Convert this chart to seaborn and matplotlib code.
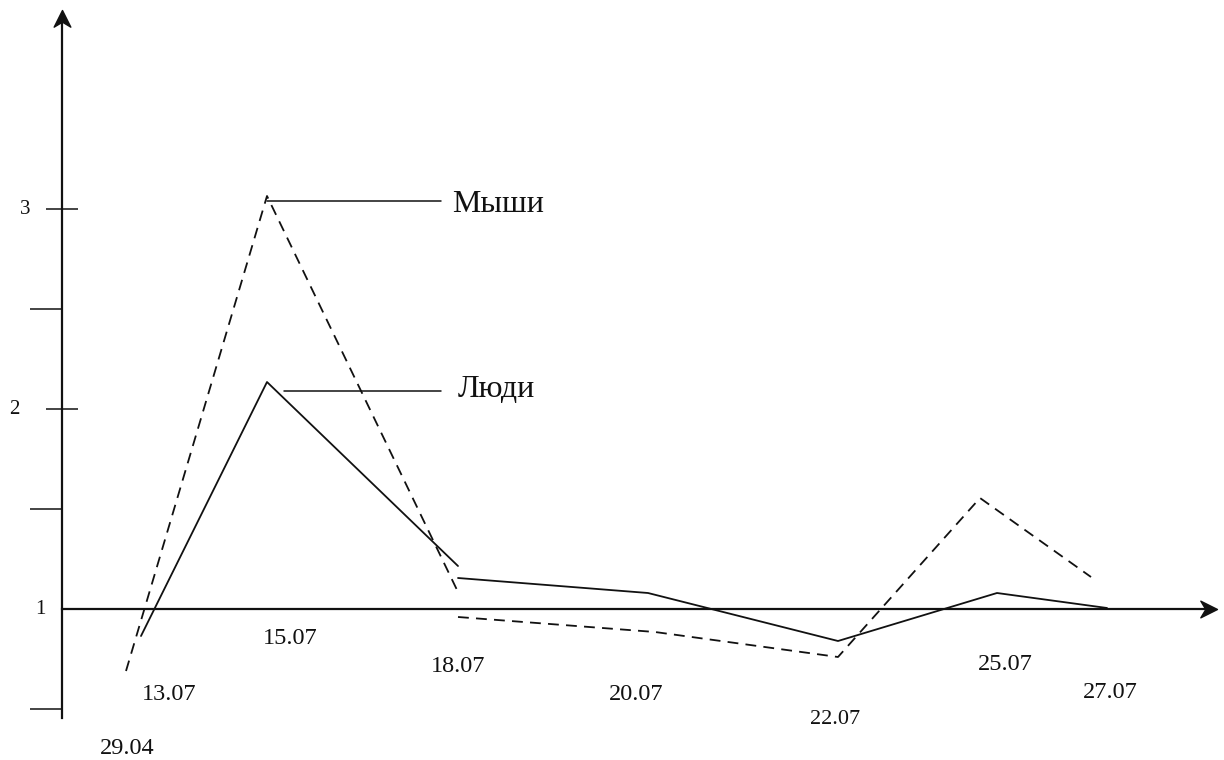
import numpy as np
import pandas as pd
import seaborn as sns
import matplotlib.pyplot as plt
from matplotlib.path import Path

# series values (x in drawing units, y on the value axis)
mice_x = [0.64, 2.05, 3.96, 3.96, 5.93, 7.76, 9.18, 10.29]
mice_y = [0.69, 3.065, 1.085, 0.96, 0.885, 0.76, 1.555, 1.16]
mice_seg = [0, 0, 0, 1, 1, 1, 1, 1]

people_x = [0.79, 2.05, 3.96, 3.96, 5.86, 7.76, 9.35, 10.45]
people_y = [0.865, 2.135, 1.215, 1.155, 1.08, 0.84, 1.08, 1.005]
people_seg = [0, 0, 0, 1, 1, 1, 1, 1]

# date labels under the x axis
date_labels = ['29.04', '13.07', '15.07', '18.07', '20.07', '22.07', '25.07', '27.07']
date_x = [0.65, 1.07, 2.28, 3.96, 5.74, 7.73, 9.43, 10.48]
date_y = [0.30, 0.575, 0.855, 0.71, 0.57, 0.445, 0.72, 0.58]
date_size = [17.5, 17.5, 17.5, 17.5, 17.5, 16, 17.5, 17.5]

# y axis
y_major = [2, 3]
y_minor = [0.5, 1.5, 2.5]
y_labels = ['1', '2', '3']
y_label_vals = [1, 2, 3]
y_label_x = [-0.22, -0.48, -0.37]

df = pd.DataFrame({
    'x': mice_x + people_x,
    'y': mice_y + people_y,
    'seg': mice_seg + people_seg,
    'series': ['Мыши'] * len(mice_x) + ['Люди'] * len(people_x),
})

sns.set_style('white')
plt.rcParams['font.family'] = ['Liberation Serif', 'DejaVu Serif']

fig = plt.figure(figsize=(12.24, 7.6), dpi=100)
ax = fig.add_axes([0, 0, 1, 1])
ink = '#111111'

sns.lineplot(data=df, x='x', y='y', style='series', units='seg', estimator=None,
             color=ink, linewidth=1.3, dashes={'Люди': '', 'Мыши': (6, 4)},
             legend=False, ax=ax, sort=False)

ax.set_xlim(-0.62, 11.62)
ax.set_ylim(0.245, 4.045)
ax.set_xlabel('')
ax.set_ylabel('')

# axes as arrows through the origin (0, 1)
for s in ['top', 'right']:
    ax.spines[s].set_visible(False)
ax.spines['left'].set_position(('data', 0))
ax.spines['bottom'].set_position(('data', 1))
ax.spines['left'].set_bounds(0.455, 3.95)
ax.spines['bottom'].set_bounds(0, 11.5)
for s in ['left', 'bottom']:
    ax.spines[s].set_color(ink)
    ax.spines[s].set_linewidth(1.6)

head_up = Path([(0, 0), (-0.5, -1), (0, -0.7), (0.5, -1), (0, 0)],
               [Path.MOVETO, Path.LINETO, Path.LINETO, Path.LINETO, Path.CLOSEPOLY])
head_right = Path([(0, 0), (-1, 0.5), (-0.7, 0), (-1, -0.5), (0, 0)],
                  [Path.MOVETO, Path.LINETO, Path.LINETO, Path.LINETO, Path.CLOSEPOLY])
ax.plot([0], [3.995], marker=head_up, markersize=24, color=ink, clip_on=False)
ax.plot([11.55], [1], marker=head_right, markersize=24, color=ink, clip_on=False)

ax.set_xticks([])
ax.set_yticks(y_major)
ax.set_yticks(y_minor, minor=True)
ax.set_yticklabels([])
ax.tick_params(axis='y', which='both', left=True)
ax.tick_params(axis='y', which='major', direction='inout', length=23, width=1.1, color=ink)
ax.tick_params(axis='y', which='minor', direction='out', length=23, width=1.1, color=ink)

for lab, v, xx in zip(y_labels, y_label_vals, y_label_x):
    ax.text(xx, v, lab, fontsize=15, ha='center', va='center', color=ink)

for lab, xx, yy, fs in zip(date_labels, date_x, date_y, date_size):
    ax.text(xx, yy, lab, fontsize=fs, ha='center', va='center', color=ink)

# series labels with leader lines
ax.plot([2.05, 3.79], [3.04, 3.04], color=ink, linewidth=1.1)
ax.plot([2.22, 3.79], [2.09, 2.09], color=ink, linewidth=1.1)
ax.text(3.90, 3.02, 'Мыши', fontsize=23, ha='left', va='center', color=ink)
ax.text(3.96, 2.095, 'Люди', fontsize=23, ha='left', va='center', color=ink)

fig.savefig('out.png', dpi=100)
